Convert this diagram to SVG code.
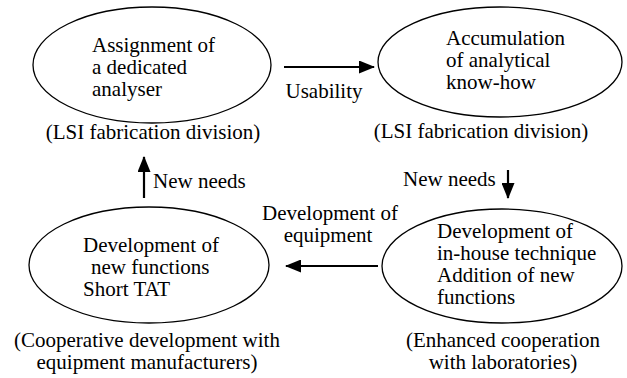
<svg xmlns="http://www.w3.org/2000/svg" width="627" height="378" viewBox="0 0 627 378">
  <defs>
    <marker id="arrowhead" viewBox="0 0 16 13" refX="15" refY="6.5" markerWidth="16" markerHeight="13" markerUnits="userSpaceOnUse" orient="auto">
      <path d="M0,0 L16,6.5 L0,13 z" fill="#000"/>
    </marker>
  </defs>
  <style>
    .lbl { font-family: 'Liberation Serif', serif; font-size: 21px; fill: #000; }
    .mid { text-anchor: middle; }
    .shape { fill: none; stroke: #000; stroke-width: 1.3; }
    .edge { stroke: #000; stroke-width: 2.2; }
  </style>
  <rect width="627" height="378" fill="#fff"/>

  <g font-family="'Liberation Serif', serif" font-size="21">
  <!-- Top-left: dedicated analyser -->
  <g id="node-assignment">
    <ellipse class="shape" cx="152" cy="65" rx="119" ry="58"/>
    <text class="lbl" x="92" y="52">Assignment of</text>
    <text class="lbl" x="92" y="74">a dedicated</text>
    <text class="lbl" x="92" y="96">analyser</text>
    <text class="lbl mid" x="153" y="139">(LSI fabrication division)</text>
  </g>

  <!-- Top-right: analytical know-how -->
  <g id="node-accumulation">
    <ellipse class="shape" cx="500" cy="62" rx="122" ry="55"/>
    <text class="lbl" x="446" y="45">Accumulation</text>
    <text class="lbl" x="446" y="67">of analytical</text>
    <text class="lbl" x="446" y="89">know-how</text>
    <text class="lbl mid" x="481" y="138">(LSI fabrication division)</text>
  </g>

  <!-- Bottom-right: in-house technique -->
  <g id="node-inhouse">
    <ellipse class="shape" cx="502" cy="266" rx="120" ry="57"/>
    <text class="lbl" x="437" y="238">Development of</text>
    <text class="lbl" x="437" y="260">in-house technique</text>
    <text class="lbl" x="437" y="282">Addition of new</text>
    <text class="lbl" x="437" y="304">functions</text>
    <text class="lbl mid" x="503" y="347">(Enhanced cooperation</text>
    <text class="lbl mid" x="503" y="369">with laboratories)</text>
  </g>

  <!-- Bottom-left: new functions -->
  <g id="node-newfunctions">
    <ellipse class="shape" cx="149" cy="265" rx="120" ry="58"/>
    <text class="lbl" x="83" y="252">Development of</text>
    <text class="lbl" x="91" y="274">new functions</text>
    <text class="lbl" x="83" y="296">Short TAT</text>
    <text class="lbl mid" x="147" y="347">(Cooperative development with</text>
    <text class="lbl mid" x="147" y="369">equipment manufacturers)</text>
  </g>

  <!-- Connectors -->
  <g id="connectors">
    <line class="edge" x1="284" y1="67" x2="374" y2="67" marker-end="url(#arrowhead)"/>
    <line class="edge" x1="508" y1="170" x2="508" y2="198" marker-end="url(#arrowhead)"/>
    <line class="edge" x1="378" y1="266" x2="286" y2="266" marker-end="url(#arrowhead)"/>
    <line class="edge" x1="144" y1="198" x2="144" y2="157" marker-end="url(#arrowhead)"/>
    <text class="lbl mid" x="324" y="98">Usability</text>
    <text class="lbl" x="403" y="186">New needs</text>
    <text class="lbl mid" x="330" y="220">Development of</text>
    <text class="lbl mid" x="328" y="242">equipment</text>
    <text class="lbl" x="153" y="188">New needs</text>
  </g>
  </g>
</svg>
